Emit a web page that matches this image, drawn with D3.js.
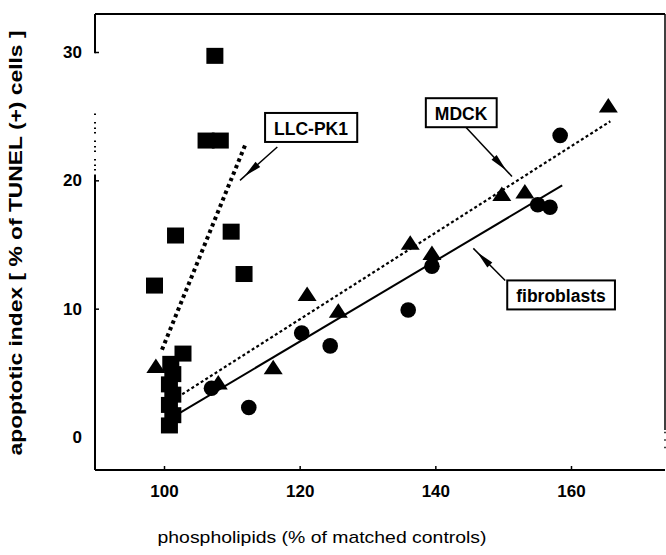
<!DOCTYPE html>
<html>
<head>
<meta charset="utf-8">
<script src="https://cdn.jsdelivr.net/npm/d3@7"></script>
<style>
  body { margin: 0; background: #fff; }
  text { font-family: "Liberation Sans", Arial, sans-serif; fill: #000; }
</style>
</head>
<body>
<div id="visualization"></div>
<script>
// LLC-PK1 (squares)
var llcX = [107.5, 106.2, 108.3, 109.9, 101.7, 98.6, 111.8, 102.8, 100.8, 101.3, 100.8, 101.3, 100.8, 101.3, 101.0];
var llcY = [29.7, 23.1, 23.1, 16.0, 15.7, 11.8, 12.7, 6.5, 0.9, 1.7, 2.5, 3.3, 4.1, 4.9, 5.7];
// MDCK (triangles)
var mdckX = [98.8, 108.0, 116.1, 121.1, 125.7, 136.3, 139.5, 149.8, 153.2, 165.5];
var mdckY = [5.5, 4.2, 5.4, 11.1, 9.8, 15.1, 14.3, 18.9, 19.1, 25.8];
// fibroblasts (circles)
var fibroX = [107.0, 112.5, 120.3, 124.5, 136.0, 139.5, 155.1, 156.9, 158.4];
var fibroY = [3.8, 2.3, 8.1, 7.1, 9.9, 13.3, 18.1, 17.9, 23.5];

// regression lines (end points)
var llcLineX = [99.7, 112.0],  llcLineY = [6.8, 22.8];
var mdckLineX = [102.0, 165.8], mdckLineY = [3.1, 24.6];
var fibroLineX = [102.4, 158.7], fibroLineY = [1.9, 19.6];

var xTicks = [100, 120, 140, 160];
var yTicks = [0, 10, 20, 30];

// labels: text, box corner (data units), arrow from -> to
var labelNames = ["LLC-PK1", "MDCK", "fibroblasts"];
var labelBoxX = [114.9, 138.6, 150.6];
var labelBoxY = [25.25, 26.4, 12.2];
var arrowFromX = [116.7, 144.4, 150.3], arrowFromY = [22.6, 24.2, 12.2];
var arrowToX = [111.2, 151.3, 145.6],   arrowToY = [20.0, 20.3, 14.7];

render();

function render() {
  var width = 666, height = 555;

  var x = d3.scaleLinear().domain([100, 160]).range([164, 571]);
  var y = d3.scaleLinear().domain([0, 30]).range([437, 52]);

  var xMin = x.invert(95), xMax = x.invert(665);
  var yMin = y.invert(470), yMax = y.invert(14);

  var svg = d3.select("#visualization").append("svg")
      .attr("width", width)
      .attr("height", height);

  // frame
  var frame = svg.append("g").attr("stroke", "#000").attr("fill", "none");
  frame.append("line").attr("x1", x(xMin)).attr("x2", x(xMax)).attr("y1", y(yMax)).attr("y2", y(yMax)).attr("stroke-width", 2);
  frame.append("line").attr("x1", x(xMin)).attr("x2", x(xMax)).attr("y1", y(yMin)).attr("y2", y(yMin)).attr("stroke-width", 2);
  frame.append("line").attr("x1", x(xMax)).attr("x2", x(xMax)).attr("y1", y(yMax)).attr("y2", y(0.55)).attr("stroke-width", 1.5);
  frame.append("line").attr("x1", x(xMax)).attr("x2", x(xMax)).attr("y1", y(0.4)).attr("y2", y(-1.3))
       .attr("stroke-width", 1.5).attr("stroke-dasharray", "1.5,6");
  // left axis, broken
  frame.append("line").attr("x1", x(xMin)).attr("x2", x(xMin)).attr("y1", y(yMax)).attr("y2", y(29.9)).attr("stroke-width", 2);
  frame.append("line").attr("x1", x(xMin)).attr("x2", x(xMin)).attr("y1", y(25.2)).attr("y2", y(20.6))
       .attr("stroke-width", 2).attr("stroke-dasharray", "1.5,7,1.5,4,1.5,3");
  frame.append("line").attr("x1", x(xMin)).attr("x2", x(xMin)).attr("y1", y(20.45)).attr("y2", y(yMin)).attr("stroke-width", 2);

  // axes
  var xAxis = d3.axisBottom(x).tickValues(xTicks).tickSize(-4).tickPadding(15).tickFormat(d3.format("d"));
  var gx = svg.append("g").attr("transform", "translate(0," + y(yMin) + ")").call(xAxis);
  gx.select(".domain").remove();
  gx.selectAll("line").attr("stroke-width", 1.5);
  gx.selectAll("text").attr("font-size", 17).attr("font-weight", "bold");

  var yAxis = d3.axisLeft(y).tickValues(yTicks).tickSize(-4).tickPadding(13).tickFormat(d3.format("d"));
  var gy = svg.append("g").attr("transform", "translate(" + x(xMin) + ",0)").call(yAxis);
  gy.select(".domain").remove();
  gy.selectAll("line").attr("stroke-width", 1.5).filter(function(d) { return d === 0; }).remove();
  gy.selectAll("text").attr("font-size", 17).attr("font-weight", "bold");

  // axis titles
  svg.append("text")
     .attr("x", 322).attr("y", 543)
     .attr("text-anchor", "middle")
     .attr("font-size", 17)
     .attr("textLength", 329)
     .attr("lengthAdjust", "spacingAndGlyphs")
     .text("phospholipids (% of matched controls)");

  svg.append("text")
     .attr("transform", "translate(22,243) rotate(-90)")
     .attr("text-anchor", "middle")
     .attr("font-size", 18)
     .attr("font-weight", "bold")
     .attr("textLength", 425)
     .attr("lengthAdjust", "spacingAndGlyphs")
     .text("apoptotic index  [ % of TUNEL (+) cells ]");

  // regression lines
  var line = d3.line().x(function(d) { return x(d[0]); }).y(function(d) { return y(d[1]); });
  svg.append("path").datum(d3.zip(fibroLineX, fibroLineY))
     .attr("d", line).attr("stroke", "#000").attr("stroke-width", 2).attr("fill", "none");
  svg.append("path").datum(d3.zip(mdckLineX, mdckLineY))
     .attr("d", line).attr("stroke", "#000").attr("stroke-width", 2.2).attr("stroke-dasharray", "3,2.5").attr("fill", "none");
  svg.append("path").datum(d3.zip(llcLineX, llcLineY))
     .attr("d", line).attr("stroke", "#000").attr("stroke-width", 4).attr("stroke-dasharray", "3.5,3.5").attr("fill", "none");

  // points
  svg.selectAll(".sq").data(d3.zip(llcX, llcY)).enter().append("rect")
     .attr("class", "sq")
     .attr("x", function(d) { return x(d[0]) - 8.5; })
     .attr("y", function(d) { return y(d[1]) - 8; })
     .attr("width", 17).attr("height", 16)
     .attr("fill", "#000");

  svg.selectAll(".ci").data(d3.zip(fibroX, fibroY)).enter().append("circle")
     .attr("class", "ci")
     .attr("cx", function(d) { return x(d[0]); })
     .attr("cy", function(d) { return y(d[1]); })
     .attr("r", 7.8)
     .attr("fill", "#000");

  svg.selectAll(".tr").data(d3.zip(mdckX, mdckY)).enter().append("path")
     .attr("class", "tr")
     .attr("transform", function(d) { return "translate(" + x(d[0]) + "," + y(d[1]) + ")"; })
     .attr("d", "M0,-8L9.5,6.5L-9.5,6.5Z")
     .attr("fill", "#000");

  // labels with arrows
  labelNames.forEach(function(name, i) {
    var x0 = x(arrowFromX[i]), y0 = y(arrowFromY[i]);
    var x1 = x(arrowToX[i]), y1 = y(arrowToY[i]);
    svg.append("line").attr("x1", x0).attr("y1", y0).attr("x2", x1).attr("y2", y1)
       .attr("stroke", "#000").attr("stroke-width", 1.5);
    var dx = x1 - x0, dy = y1 - y0, len = Math.sqrt(dx * dx + dy * dy);
    var ux = dx / len, uy = dy / len;
    var tip = [x0 + dx * 0.88, y0 + dy * 0.88];
    var base = [tip[0] - ux * 18, tip[1] - uy * 18];
    svg.append("path")
       .attr("d", "M" + tip[0] + "," + tip[1] +
                  "L" + (base[0] - uy * 3.5) + "," + (base[1] + ux * 3.5) +
                  "L" + (base[0] + uy * 3.5) + "," + (base[1] - ux * 3.5) + "Z")
       .attr("fill", "#000");

    var g = svg.append("g");
    var t = g.append("text")
       .attr("x", x(labelBoxX[i]) + 9)
       .attr("y", y(labelBoxY[i]) + 22)
       .attr("font-size", 17.5)
       .attr("font-weight", "bold")
       .text(name);
    var bb = t.node().getBBox();
    g.insert("rect", "text")
       .attr("x", x(labelBoxX[i]))
       .attr("y", y(labelBoxY[i]))
       .attr("width", bb.width + 18)
       .attr("height", bb.height + 9)
       .attr("fill", "#fff")
       .attr("stroke", "#000")
       .attr("stroke-width", 2);
  });
}
</script>
</body>
</html>
